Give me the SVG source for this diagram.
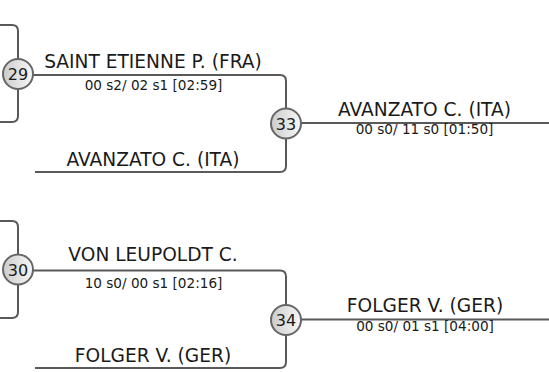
<svg xmlns="http://www.w3.org/2000/svg" width="549" height="372" viewBox="0 0 549 372">
  <defs>
    <linearGradient id="ballFill" x1="0" y1="0" x2="1" y2="0">
      <stop offset="0" stop-color="#cccccc"/>
      <stop offset="1" stop-color="#f7f7f7"/>
    </linearGradient>
    <style>
      .ln { fill: none; stroke: #595959; stroke-width: 2; }
      .ball { fill: url(#ballFill); stroke: #666; stroke-width: 2; }
      .num { font-family: "DejaVu Sans", sans-serif; font-size: 16px; fill: #1a1a1a; text-anchor: middle; }
      .name { font-family: "DejaVu Sans", sans-serif; font-size: 18.6px; fill: #1a1a1a; text-anchor: middle; }
      .score { font-family: "DejaVu Sans", sans-serif; font-size: 13.6px; fill: #1a1a1a; text-anchor: middle; }
    </style>
  </defs>
  <rect width="549" height="372" fill="#ffffff"/>
  <g id="connectors">
    <path class="ln" d="M0,25 H12 Q18,25 18,31 V116 Q18,122 12,122 H0"/>
    <path class="ln" d="M18,75 H280 Q286,75 286,81 V166 Q286,172 280,172 H35"/>
    <path class="ln" d="M286,123 H549"/>
    <path class="ln" d="M0,221 H12 Q18,221 18,227 V312 Q18,318 12,318 H0"/>
    <path class="ln" d="M18,270.5 H280 Q286,270.5 286,276.5 V362 Q286,368 280,368 H35"/>
    <path class="ln" d="M286,319.5 H549"/>
  </g>
  <g id="labels">
    <text class="name" x="153" y="68">SAINT ETIENNE P. (FRA)</text>
    <text class="score" x="153.5" y="90">00 s2/ 02 s1 [02:59]</text>
    <text class="name" x="153" y="166">AVANZATO C. (ITA)</text>
    <text class="name" x="424.5" y="116">AVANZATO C. (ITA)</text>
    <text class="score" x="424.5" y="134">00 s0/ 11 s0 [01:50]</text>
    <text class="name" x="153" y="261">VON LEUPOLDT C.</text>
    <text class="score" x="153.5" y="288">10 s0/ 00 s1 [02:16]</text>
    <text class="name" x="153" y="362">FOLGER V. (GER)</text>
    <text class="name" x="425" y="312">FOLGER V. (GER)</text>
    <text class="score" x="425" y="331">00 s0/ 01 s1 [04:00]</text>
  </g>
  <g id="m29">
    <circle class="ball" cx="18" cy="74" r="15"/>
    <text class="num" x="18" y="80">29</text>
  </g>
  <g id="m33">
    <circle class="ball" cx="286" cy="123.5" r="15"/>
    <text class="num" x="286" y="129.5">33</text>
  </g>
  <g id="m30">
    <circle class="ball" cx="18" cy="269.5" r="15"/>
    <text class="num" x="18" y="275.5">30</text>
  </g>
  <g id="m34">
    <circle class="ball" cx="286" cy="320" r="15"/>
    <text class="num" x="286" y="326">34</text>
  </g>
</svg>
